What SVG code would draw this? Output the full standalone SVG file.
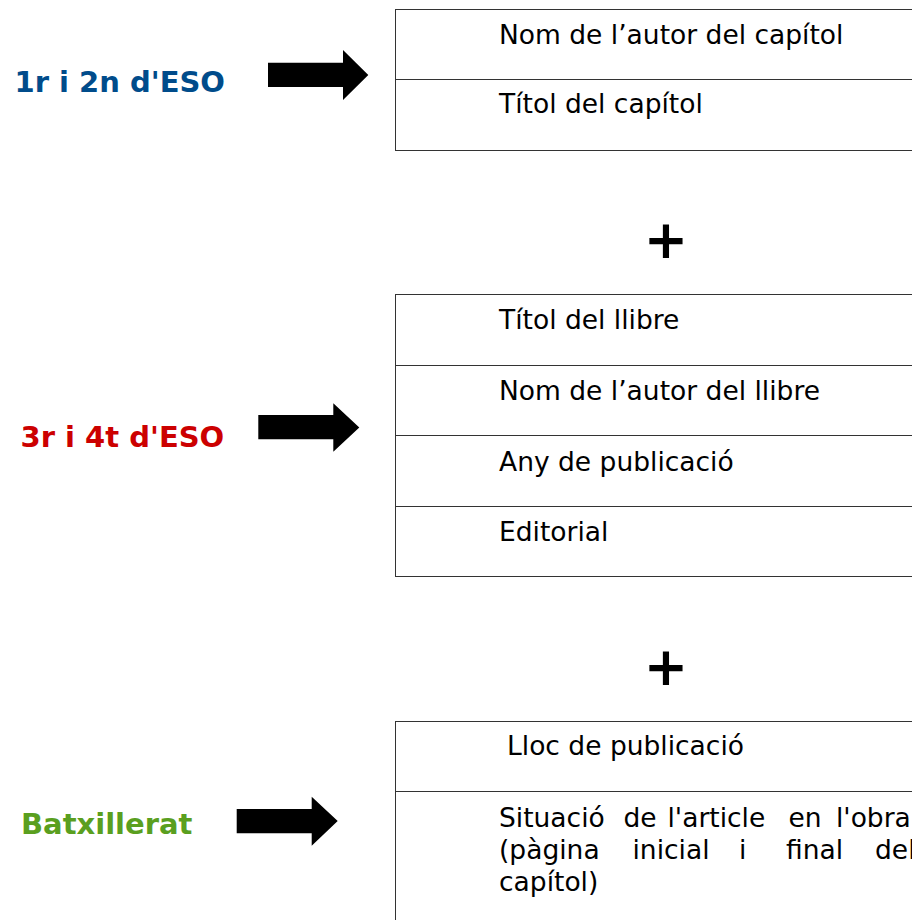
<svg xmlns="http://www.w3.org/2000/svg" width="912" height="920" viewBox="0 0 912 920">
<style>
.box{fill:#fff;stroke:#333;stroke-width:1}
.div{stroke:#333;stroke-width:1}
.t{font-family:"DejaVu Sans",Verdana,sans-serif;font-size:26.5px;fill:#000}
.lbl{font-family:"DejaVu Sans",Verdana,sans-serif;font-size:29px;font-weight:bold}
.plus{font-family:"DejaVu Sans",sans-serif;font-size:53px;font-weight:bold;fill:#000;text-anchor:middle}
.arrow{fill:#000}
</style>
<rect width="912" height="920" fill="#fff"/>
<g id="label-eso12"><text class="lbl" x="14.5" y="91.5" fill="#004C8B">1r i 2n d'ESO</text></g>
<g id="label-eso34"><text class="lbl" x="20.5" y="446.7" fill="#CC0000">3r i 4t d'ESO</text></g>
<g id="label-batx"><text class="lbl" x="21" y="833.5" fill="#5A9F1F">Batxillerat</text></g>
<g id="box1">
<rect class="box" x="395.5" y="9.5" width="540" height="141"/>
<line class="div" x1="395.5" y1="79.5" x2="935" y2="79.5"/>
<text class="t" x="499" y="43.5">Nom de l’autor del capítol</text>
<text class="t" x="499" y="113">Títol del capítol</text>
</g>
<g id="plus1"><text class="plus" x="666" y="257.5">+</text></g>
<g id="box2">
<rect class="box" x="395.5" y="294.5" width="540" height="282"/>
<line class="div" x1="395.5" y1="365.5" x2="935" y2="365.5"/>
<line class="div" x1="395.5" y1="435.5" x2="935" y2="435.5"/>
<line class="div" x1="395.5" y1="506.5" x2="935" y2="506.5"/>
<text class="t" x="499" y="329">Títol del llibre</text>
<text class="t" x="499" y="400">Nom de l’autor del llibre</text>
<text class="t" x="499" y="470.5">Any de publicació</text>
<text class="t" x="499" y="540.5">Editorial</text>
</g>
<g id="plus2"><text class="plus" x="666" y="684.5">+</text></g>
<g id="box3">
<rect class="box" x="395.5" y="721.5" width="540" height="230"/>
<line class="div" x1="395.5" y1="791.5" x2="935" y2="791.5"/>
<text class="t" x="507" y="755">Lloc de publicació</text>
<text class="t" y="827"><tspan x="499">Situació</tspan><tspan x="623.5">de</tspan><tspan x="667.5">l'article</tspan><tspan x="788.5">en</tspan><tspan x="836">l'obra</tspan></text>
<text class="t" y="859"><tspan x="499">(pàgina</tspan><tspan x="632.5">inicial</tspan><tspan x="739">i</tspan><tspan x="786">final</tspan><tspan x="875">del</tspan></text>
<text class="t" x="499" y="891">capítol)</text>
</g>
<g id="connectors">
<polygon class="arrow" points="268,62.7 343,62.7 343,50 368.3,75 343,100 343,87 268,87"/>
<polygon class="arrow" points="258.3,415 333.3,415 333.3,403.3 359.3,427.5 333.3,451.7 333.3,439.3 258.3,439.3"/>
<polygon class="arrow" points="236.7,809 311.7,809 311.7,796.7 337.7,821 311.7,845.7 311.7,833.3 236.7,833.3"/>
</g>
</svg>
